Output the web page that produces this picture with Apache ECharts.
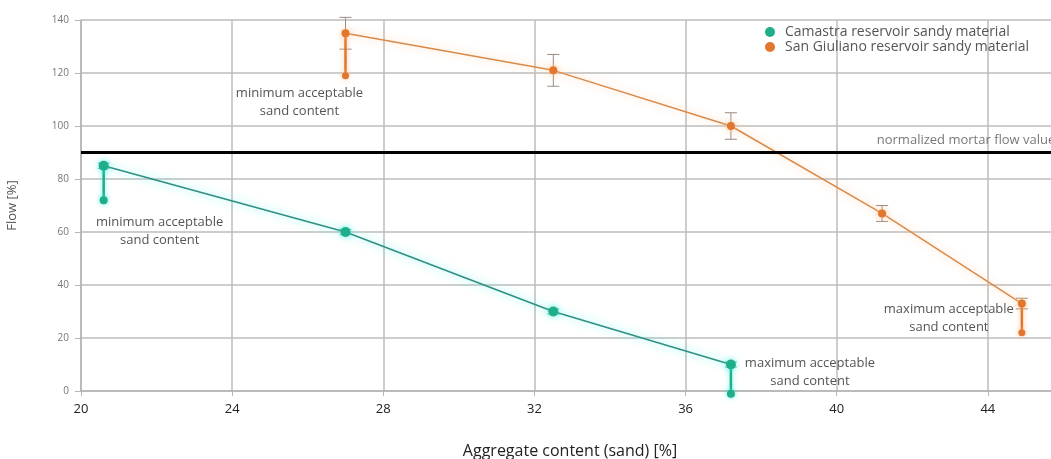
<!DOCTYPE html>
<html>
<head>
<meta charset="utf-8">
<script src="https://cdn.jsdelivr.net/npm/echarts@6/dist/echarts.min.js"></script>
<style>html,body{margin:0;padding:0;background:#fff}#c{width:1051px;height:459px}</style>
</head>
<body>
<div id="c"></div>
<script>
// ---- data ----
const camastraName = 'Camastra reservoir sandy material';
const sanGiulianoName = 'San Giuliano reservoir sandy material';
const camastraX = [20.6, 27.0, 32.5, 37.2];
const camastraY = [85, 60, 30, 10];
const camastraErr = [1, 1, 1, 1];
const sanGiulianoX = [27.0, 32.5, 37.2, 41.2, 44.9];
const sanGiulianoY = [135, 121, 100, 67, 33];
const sanGiulianoErr = [6, 6, 5, 3, 2];
// acceptable-limit links: [x, flow at point, flow at limit]
const camastraMinLimit = [20.6, 85, 72];
const camastraMaxLimit = [37.2, 10, -1];
const sanGiulianoMinLimit = [27.0, 135, 119];
const sanGiulianoMaxLimit = [44.9, 33, 22];
const normalizedFlow = 90;
const normLabelAnchorX = 41.06;
const minText = 'minimum acceptable\nsand content';
const maxText = 'maximum acceptable\nsand content';
const normText = 'normalized mortar flow value';

const GREEN = '#1fae87', GREEN_LINE = '#2f8f80', GREEN_GLOW = 'rgba(60,240,230,0.8)';
const ORANGE = '#e2762c', ORANGE_LINE = '#d98a4a', ORANGE_GLOW = 'rgba(255,190,140,0.85)';
const FONT = '"Open Sans", sans-serif';

const pairs = (xs, ys) => xs.map((x, i) => [x, ys[i]]);
const errData = (xs, ys, es) => xs.map((x, i) => [x, ys[i] - es[i], ys[i] + es[i]]);

function errorSeries(data, color) {
  return {
    type: 'custom', silent: true, z: 1, clip: false,
    data: data,
    renderItem: function (params, api) {
      const x = api.value(0);
      const lo = api.coord([x, api.value(1)]);
      const hi = api.coord([x, api.value(2)]);
      const w = 6;
      const st = { stroke: color, lineWidth: 1 };
      return { type: 'group', children: [
        { type: 'line', shape: { x1: lo[0], y1: lo[1], x2: hi[0], y2: hi[1] }, style: st },
        { type: 'line', shape: { x1: lo[0] - w, y1: lo[1], x2: lo[0] + w, y2: lo[1] }, style: st },
        { type: 'line', shape: { x1: hi[0] - w, y1: hi[1], x2: hi[0] + w, y2: hi[1] }, style: st }
      ]};
    }
  };
}

function limitSeries(lim, color, glow, symSize, text, labelOpt) {
  return {
    type: 'line', silent: true, z: 3, clip: false,
    data: [
      { value: [lim[0], lim[1]], symbolSize: 0 },
      { value: [lim[0], lim[2]], label: Object.assign({
          show: true, formatter: text, color: '#555', fontSize: 13,
          fontFamily: FONT, lineHeight: 18, align: 'center'
        }, labelOpt) }
    ],
    symbol: 'circle', symbolSize: symSize,
    itemStyle: { color: color, shadowBlur: 5, shadowColor: glow },
    lineStyle: { color: color, width: 2.5, shadowBlur: 5, shadowColor: glow }
  };
}

const chart = echarts.init(document.getElementById('c'), null, { renderer: 'canvas' });
chart.setOption({
  animation: false,
  textStyle: { fontFamily: FONT },
  grid: { left: 81, top: 20, width: 1058, height: 371, containLabel: false, outerBoundsMode: 'none' },
  legend: {
    orient: 'vertical', left: 760, top: 20, itemGap: 1,
    itemWidth: 12, itemHeight: 10,
    textStyle: { color: '#555', fontSize: 14, fontFamily: FONT, padding: [0, 0, 0, 4] },
    data: [
      { name: camastraName, icon: 'circle' },
      { name: sanGiulianoName, icon: 'circle' }
    ]
  },
  xAxis: {
    type: 'value', min: 20, max: 48, interval: 4,
    name: 'Aggregate content (sand) [%]', nameLocation: 'middle', nameGap: 52,
    nameTextStyle: { color: '#222', fontSize: 16, fontFamily: FONT, padding: [0, 80, 0, 0] },
    axisLine: { show: true, onZero: false, lineStyle: { color: '#b5b5b5', width: 1.5 } },
    axisTick: { show: true, length: 5, lineStyle: { color: '#b5b5b5' } },
    axisLabel: { color: '#222', fontSize: 13, margin: 12, fontFamily: FONT },
    splitLine: { show: true, lineStyle: { color: '#bdbdbd', width: 1.5 } }
  },
  yAxis: {
    type: 'value', min: 0, max: 140, interval: 20,
    name: 'Flow [%]', nameLocation: 'middle', nameGap: 62, nameRotate: 90,
    nameTextStyle: { color: '#555', fontSize: 13, fontFamily: FONT },
    axisLine: { show: true, lineStyle: { color: '#b5b5b5', width: 1.5 } },
    axisTick: { show: true, length: 6, lineStyle: { color: '#b5b5b5' } },
    axisLabel: { color: '#777', fontSize: 10, margin: 12, fontFamily: FONT },
    splitLine: { show: true, lineStyle: { color: '#bdbdbd', width: 1.5 } }
  },
  series: [
    errorSeries(errData(camastraX, camastraY, camastraErr), '#7fb8aa'),
    errorSeries(errData(sanGiulianoX, sanGiulianoY, sanGiulianoErr), '#9a8a80'),
    {
      name: camastraName, type: 'line', z: 4, clip: false,
      data: pairs(camastraX, camastraY),
      symbol: 'circle', symbolSize: 10,
      itemStyle: { color: GREEN, shadowBlur: 6, shadowColor: GREEN_GLOW },
      lineStyle: { color: GREEN_LINE, width: 1.5, shadowBlur: 9, shadowColor: GREEN_GLOW }
    },
    {
      name: sanGiulianoName, type: 'line', z: 4, clip: false,
      data: pairs(sanGiulianoX, sanGiulianoY),
      symbol: 'circle', symbolSize: 8,
      itemStyle: { color: ORANGE, shadowBlur: 6, shadowColor: ORANGE_GLOW },
      lineStyle: { color: ORANGE_LINE, width: 1.5, shadowBlur: 9, shadowColor: ORANGE_GLOW },
      markLine: {
        silent: true, symbol: 'none',
        lineStyle: { color: '#000', width: 3, type: 'solid' },
        label: { show: false },
        data: [{ yAxis: normalizedFlow }]
      }
    },
    limitSeries(camastraMinLimit, GREEN, GREEN_GLOW, 8, minText, { position: 'bottom', offset: [56, 4] }),
    limitSeries(camastraMaxLimit, GREEN, GREEN_GLOW, 8, maxText, { position: 'inside', offset: [79, -21] }),
    limitSeries(sanGiulianoMinLimit, ORANGE, ORANGE_GLOW, 7, minText, { position: 'bottom', offset: [-46, 0] }),
    limitSeries(sanGiulianoMaxLimit, ORANGE, ORANGE_GLOW, 7, maxText, { position: 'inside', offset: [-73, -14] }),
    {
      type: 'scatter', silent: true, symbolSize: 0, z: 5,
      data: [{ value: [normLabelAnchorX, normalizedFlow] }],
      label: { show: true, position: 'top', align: 'left', formatter: normText, color: '#555',
               fontSize: 13, fontFamily: FONT, distance: 6 }
    }
  ]
});
</script>
</body>
</html>
